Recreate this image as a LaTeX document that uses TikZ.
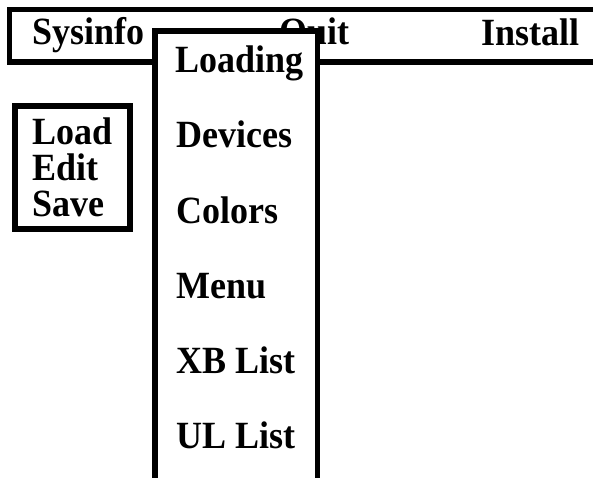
\documentclass[tikz,border=0pt]{standalone}
\usepackage{fontspec}
\setmainfont{Liberation Serif}
\newcommand{\tallbox}[1]{\scalebox{1}[1.07]{#1}}
\begin{document}
\begin{tikzpicture}[x=1pt,y=-1pt,
  lbl/.style={anchor=base west,inner sep=0pt,font=\fontsize{36}{36}\selectfont\bfseries},
  frame/.style={draw=black,line width=5.5pt,line join=miter},
]
\useasboundingbox (0,0) rectangle (593,478);
\clip (0,0) rectangle (593,478);
% menu bar (open to the right)
\coordinate (barTR) at (600,9.5);
\coordinate (barTL) at (9.5,9.5);
\coordinate (barBL) at (9.5,62);
\coordinate (barBR) at (600,62);
\draw[frame] (barTR) -- (barTL) -- (barBL) -- (barBR);
\node[lbl] (sysinfo) at (32,45) {\tallbox{Sysinfo}};
\node[lbl] (quit) at (279,45) {\tallbox{Quit}};
\node[lbl] (install) at (481,46) {\tallbox{Install}};
% left box
\coordinate (boxTL) at (15,106);
\coordinate (boxBR) at (130,229);
\draw[frame,line width=6pt] (boxTL) rectangle (boxBR);
\node[lbl] (load) at (32,145) {\tallbox{Load}};
\node[lbl] (edit) at (32,181) {\tallbox{Edit}};
\node[lbl] (save) at (32,216) {\tallbox{Save}};
% dropdown (open at the bottom)
\coordinate (ddTL) at (155,31);
\coordinate (ddBR) at (317.5,495);
\fill[white] (ddTL) rectangle (ddBR);
\draw[frame] (155,495) -- (ddTL) -- (317.5,31) -- (ddBR);
\node[lbl] (loading) at (175,73) {\tallbox{Loading}};
\node[lbl] (devices) at (176,148) {\tallbox{Devices}};
\node[lbl] (colors) at (176,223) {\tallbox{Colors}};
\node[lbl] (menu) at (176,298) {\tallbox{Menu}};
\node[lbl] (xblist) at (176,373) {\tallbox{XB List}};
\node[lbl] (ullist) at (176,448) {\tallbox{UL List}};
\end{tikzpicture}
\end{document}
